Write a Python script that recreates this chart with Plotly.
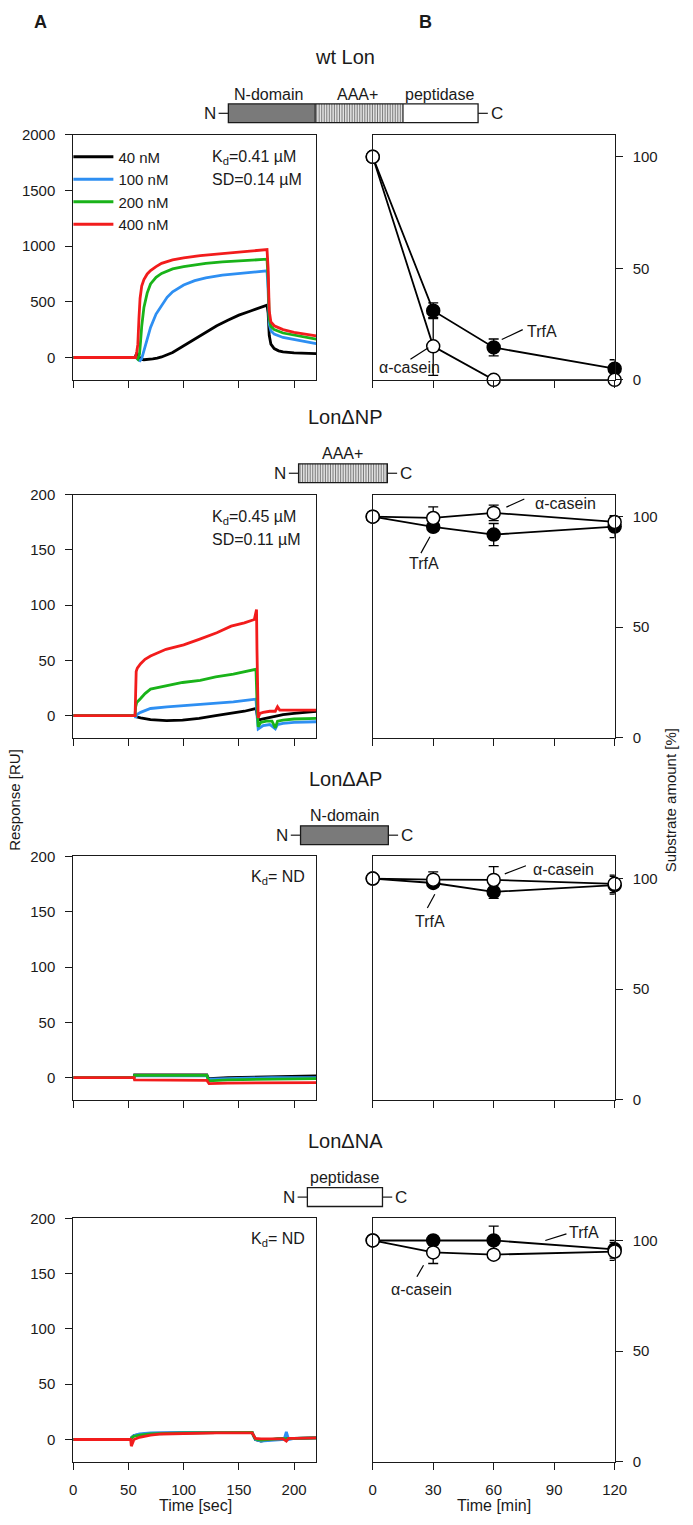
import plotly.graph_objects as go

W, H = 693, 1525
FONT = "Arial, 'Liberation Sans', Helvetica, sans-serif"
INK = "#1a1a1a"

# ---------------- Panel A data: SPR sensorgrams ----------------
conc_names = ["40 nM", "100 nM", "200 nM", "400 nM"]
conc_colors = ["#000000", "#2e8ff2", "#19b319", "#f21c1c"]

# wt Lon
wt_40_t = [0, 30, 56, 57.5, 59, 61, 64, 68, 72, 76, 80, 90, 100, 110, 120, 130, 140, 150, 160, 170, 175.5, 176.5, 177.5, 179, 182, 186, 190, 200, 210, 220]
wt_40_y = [0, 0, 0, 40, 20, -15, -20, -18, -12, -5, 5, 45, 105, 170, 230, 285, 335, 380, 415, 450, 470, 400, 200, 120, 80, 60, 50, 42, 38, 35]
wt_100_t = [0, 30, 57, 59, 60.5, 62, 65, 70, 75, 80, 85, 90, 100, 110, 120, 135, 150, 165, 175.5, 176.5, 177.5, 179, 182, 190, 200, 210, 220]
wt_100_y = [0, 0, 0, -20, -28, -10, 90, 270, 390, 470, 540, 590, 650, 690, 715, 740, 755, 770, 778, 600, 300, 240, 210, 180, 160, 145, 125]
wt_200_t = [0, 30, 57, 58.5, 60, 61, 62, 64, 67, 70, 75, 80, 90, 100, 110, 120, 135, 150, 165, 175.5, 176.5, 177.5, 179, 182, 190, 200, 210, 220]
wt_200_y = [0, 0, 0, -15, 30, 150, 280, 450, 580, 660, 720, 755, 795, 815, 830, 845, 858, 868, 875, 882, 700, 350, 280, 250, 220, 200, 185, 165]
wt_400_t = [0, 30, 56.5, 57.5, 58.5, 59.5, 60.5, 62, 64, 67, 70, 75, 80, 90, 100, 115, 130, 145, 160, 175.5, 176.5, 177.5, 179, 182, 190, 200, 210, 220]
wt_400_y = [0, 0, 0, 50, 120, 350, 530, 640, 700, 750, 780, 815, 845, 875, 895, 915, 930, 942, 955, 968, 800, 420, 320, 285, 250, 225, 210, 195]

# Lon dNP
np_40_t = [0, 30, 56, 57, 61, 70, 84.5, 99, 114, 129, 143, 155, 165.5, 166.5, 167.5, 172, 180, 190, 200, 210, 220]
np_40_y = [0, 0, 0, -1, -2, -3.5, -4.5, -4, -2.4, 0, 2, 4, 6.5, 0, -4, -3, -1, 1, 2, 3, 4]
np_100_t = [0, 30, 56, 56.6, 57.5, 61, 70, 85, 99, 115, 129, 145, 158, 165.5, 166.5, 167.5, 172, 178, 183, 185, 190, 200, 220]
np_100_y = [0, 0, 0, -2, 1, 3, 6.5, 8, 9, 10, 11, 12.5, 14, 15, 0, -12, -9, -8, -12, -8, -7, -6, -5.5]
np_200_t = [0, 30, 56, 56.5, 57.5, 61, 65, 70, 85, 99, 115, 129, 145, 158, 165.5, 166.5, 167.5, 170, 175, 180, 183, 185, 190, 200, 220]
np_200_y = [0, 0, 0, 8, 12, 15.5, 20, 24, 27, 30, 32, 35, 37.5, 40, 42, 10, -10, -6, -5, -5, -11, -5, -4, -3, -2.5]
np_400_t = [0, 30, 56, 56.5, 57, 58, 61, 65, 70, 84, 100, 114, 130, 143, 155, 164, 166, 166.4, 166.8, 167.5, 169, 172, 178, 183, 185, 187, 195, 210, 220]
np_400_y = [0, 0, 0, 20, 40, 43, 47, 51, 54, 60, 64, 69, 75, 81, 84, 87, 96, 60, 5, -2, 2, 3, 4, 4, 8, 5, 5, 5, 5]

# Lon dAP
ap_t = [0, 55, 55.5, 121, 122, 123, 140, 180, 220]
ap_40_y = [0, 0, 2.5, 2.5, 0, -1, 0, 1, 1.5]
ap_100_y = [0, 0, 1.5, 1.5, -1, -1.5, -1, 0, 0]
ap_200_y = [0, 0, 2, 2, -1, -3, -2, -1.5, -1]
ap_400_y = [0, 0, -2, -2.5, -4, -5.5, -5, -5, -4.5]

# Lon dNA
na_40_t = [0, 30, 52, 53, 55, 60, 70, 100, 130, 162, 163.5, 165, 170, 175, 185, 200, 220]
na_40_y = [0, 0, 0, 2, 3.5, 4.5, 5.5, 6, 6, 6.5, 3, 0, -1.5, -0.5, 0.5, 1, 1.5]
na_100_t = [0, 30, 52, 53, 55, 60, 70, 100, 130, 162, 163.5, 165, 170, 175, 185, 191, 193, 195, 200, 220]
na_100_y = [0, 0, 0, 2, 3.5, 5, 6, 6.5, 6.5, 6.5, 3, 0, -1.5, -1, 0, 0, 7, 0, 1, 1.5]
na_200_t = [0, 30, 52, 53, 55, 60, 70, 100, 130, 162, 163.5, 165, 170, 175, 185, 200, 220]
na_200_y = [0, 0, 0, 1.5, 3, 4, 5, 6, 6.5, 6.5, 3, 0.5, -0.5, 0, 0.5, 1, 1.5]
na_400_t = [0, 30, 52, 52.6, 53.5, 55, 60, 70, 80, 100, 130, 162, 163.5, 165, 170, 180, 190, 193, 195, 200, 220]
na_400_y = [0, 0, 0, -6, -3, 0, 2, 4, 5, 5.5, 6, 6, 3, 1, 0.5, 0.5, 0.5, -1.5, 1, 1, 1.5]

# ---------------- Panel B data: degradation ----------------
time_min = [0, 30, 60, 120]
wt_trfa = [100, 31, 14.5, 5]
wt_trfa_err = [0, 3.5, 3.8, 4]
wt_casein = [100, 15, 0, 0]
wt_casein_err = [0, 13, 0, 0]
np_trfa = [100, 95.4, 91.9, 95.5]
np_trfa_err = [0, 2, 5, 5]
np_casein = [100, 99.4, 101.7, 97.6]
np_casein_err = [0, 5, 3.5, 2.5]
ap_trfa = [100, 98, 94, 97]
ap_trfa_err = [0, 2, 3, 4]
ap_casein = [100, 99.5, 99.4, 97.6]
ap_casein_err = [0, 3.5, 6, 4]
na_trfa = [100, 100, 100, 96]
na_trfa_err = [0, 2, 6.5, 4]
na_casein = [100, 94.6, 93.6, 95]
na_casein_err = [0, 5, 1.5, 4]

row_titles = ["wt Lon", "Lon\u0394NP", "Lon\u0394AP", "Lon\u0394NA"]
kd_texts = [["K<sub>d</sub>=0.41 \u00b5M", "SD=0.14 \u00b5M"],
            ["K<sub>d</sub>=0.45 \u00b5M", "SD=0.11 \u00b5M"],
            ["K<sub>d</sub>= ND"], ["K<sub>d</sub>= ND"]]
sec_ticks = [0, 50, 100, 150, 200]
min_ticks = [0, 30, 60, 90, 120]
pct_ticks = [0, 50, 100]
ru_ticks = [[0, 500, 1000, 1500, 2000], [0, 50, 100, 150, 200], [0, 50, 100, 150, 200], [0, 50, 100, 150, 200]]
ru_ranges = [[-200, 2000], [-20, 200], [-20, 200], [-20, 200]]

spr_rows = [
    [(wt_40_t, wt_40_y), (wt_100_t, wt_100_y), (wt_200_t, wt_200_y), (wt_400_t, wt_400_y)],
    [(np_40_t, np_40_y), (np_100_t, np_100_y), (np_200_t, np_200_y), (np_400_t, np_400_y)],
    [(ap_t, ap_40_y), (ap_t, ap_100_y), (ap_t, ap_200_y), (ap_t, ap_400_y)],
    [(na_40_t, na_40_y), (na_100_t, na_100_y), (na_200_t, na_200_y), (na_400_t, na_400_y)],
]
deg_rows = [
    (wt_trfa, wt_trfa_err, wt_casein, wt_casein_err),
    (np_trfa, np_trfa_err, np_casein, np_casein_err),
    (ap_trfa, ap_trfa_err, ap_casein, ap_casein_err),
    (na_trfa, na_trfa_err, na_casein, na_casein_err),
]

# ---------------- layout geometry (pixels -> paper) ----------------
def fx(px):
    return px / W

def fy(py):
    return 1 - py / H

rows_top = [127, 491, 857, 1223]
rows_bot = [375, 737, 1103, 1469]
A_X = (71, 320)
B_X = (378, 626)

fig = go.Figure()
layout = dict(
    width=W, height=H, margin=dict(l=0, r=0, t=0, b=0),
    paper_bgcolor="white", plot_bgcolor="white",
    font=dict(family=FONT, size=15, color=INK),
    showlegend=True,
    legend=dict(x=fx(66), y=fy(133), xanchor="left", yanchor="top",
                bgcolor="rgba(0,0,0,0)", font=dict(size=15, color=INK),
                tracegroupgap=0, itemwidth=40),
)

axis_common = dict(showline=True, linecolor=INK, linewidth=1, mirror=True,
                   ticks="outside", ticklen=7, tickwidth=1, tickcolor=INK,
                   showgrid=False, zeroline=False, tickfont=dict(size=15, color=INK),
                   ticklabelstandoff=7)

annotations = []
shapes = []


def note(text, x, y, size=15, xanchor="center", yanchor="middle", angle=0, xref="paper", yref="paper"):
    return dict(text=text, x=x, y=y, xref=xref, yref=yref, xanchor=xanchor, yanchor=yanchor,
                showarrow=False, textangle=angle, font=dict(size=size, color=INK))


for r in range(4):
    ia = 2 * r + 1
    ib = 2 * r + 2
    ydom = [fy(rows_bot[r]), fy(rows_top[r])]
    last = (r == 3)
    layout[f"xaxis{ia}"] = dict(axis_common, domain=[fx(A_X[0]), fx(A_X[1])], range=[0, 220],
                                tickvals=sec_ticks, showticklabels=last, anchor=f"y{ia}")
    layout[f"yaxis{ia}"] = dict(axis_common, domain=ydom, range=ru_ranges[r],
                                tickvals=ru_ticks[r], anchor=f"x{ia}")
    layout[f"xaxis{ib}"] = dict(axis_common, domain=[fx(B_X[0]), fx(B_X[1])], range=[0, 120],
                                tickvals=min_ticks, showticklabels=last, anchor=f"y{ib}")
    layout[f"yaxis{ib}"] = dict(axis_common, domain=ydom, range=[0, 110], side="right",
                                tickvals=pct_ticks, anchor=f"x{ib}")

    # SPR traces
    for k, (tt, yy) in enumerate(spr_rows[r]):
        fig.add_trace(go.Scatter(
            x=tt, y=yy, mode="lines", name=conc_names[k],
            line=dict(color=conc_colors[k], width=2.8),
            xaxis=f"x{ia}", yaxis=f"y{ia}", showlegend=(r == 0)))

    # degradation traces
    trfa, trfa_err, cas, cas_err = deg_rows[r]
    fig.add_trace(go.Scatter(
        x=time_min, y=trfa, mode="lines+markers", name="TrfA", showlegend=False,
        line=dict(color="black", width=1.8),
        marker=dict(symbol="circle", size=13, color="black", line=dict(color="black", width=1.5)),
        error_y=dict(type="data", array=trfa_err, visible=True, color="black", thickness=1.3, width=5),
        cliponaxis=False, xaxis=f"x{ib}", yaxis=f"y{ib}"))
    fig.add_trace(go.Scatter(
        x=time_min, y=cas, mode="lines+markers", name="\u03b1-casein", showlegend=False,
        line=dict(color="black", width=1.8),
        marker=dict(symbol="circle", size=13, color="white", line=dict(color="black", width=1.5)),
        error_y=dict(type="data", array=cas_err, visible=True, color="black", thickness=1.3, width=5),
        cliponaxis=False, xaxis=f"x{ib}", yaxis=f"y{ib}"))

    # Kd text
    T = rows_top[r]
    if len(kd_texts[r]) == 2:
        annotations.append(note(kd_texts[r][0], fx(211), fy(T + 23), size=16, xanchor="left"))
        annotations.append(note(kd_texts[r][1], fx(211), fy(T + 45), size=16, xanchor="left"))
    else:
        annotations.append(note(kd_texts[r][0], fx(311), fy(T + 21), size=16, xanchor="right"))

    # row title
    annotations.append(note(row_titles[r], fx(350), fy(T - 78), size=20))

# callout labels in panel B: (row, label, text pos, line start, line end) in data units
callouts = [
    (0, "TrfA", (84, 21.8), (64, 18.1), (74.4, 22.5)),
    (0, "\u03b1-casein", (18.4, 5.5), (18.7, 9.2), (27.6, 14.4)),
    (1, "\u03b1-casein", (95.6, 106), (66.3, 104.3), (75.2, 108)),
    (1, "TrfA", (25.6, 79), (28.4, 90.9), (23.9, 83.5)),
    (2, "\u03b1-casein", (94.4, 104.3), (65.5, 102.1), (76, 105.8)),
    (2, "TrfA", (28.4, 80.6), (30.8, 92.9), (27.1, 86.7)),
    (3, "TrfA", (105, 103.4), (85.6, 100), (96.1, 103)),
    (3, "\u03b1-casein", (24, 77.7), (25.2, 88.8), (21.9, 83.6)),
]
for r, lab, tp, p0, p1 in callouts:
    ib = 2 * r + 2
    annotations.append(note(lab, tp[0], tp[1], size=16, xref=f"x{ib}", yref=f"y{ib}"))
    shapes.append(dict(type="line", xref=f"x{ib}", yref=f"y{ib}", x0=p0[0], y0=p0[1], x1=p1[0], y1=p1[1],
                       line=dict(color="black", width=1.2)))

# domain diagrams: segments (left px, right px, kind) and labels (text, center px)
diagrams = [
    ([(230, 319, "ndom"), (319, 409, "aaa"), (409, 486, "pep")],
     [("N-domain", 271), ("AAA+", 362), ("peptidase", 446)]),
    ([(302, 393, "aaa")], [("AAA+", 347)]),
    ([(304, 394, "ndom")], [("N-domain", 349)]),
    ([(311, 388, "pep")], [("peptidase", 349)]),
]
fills = {"ndom": "#7a7a7a", "aaa": "#e2e2e2", "pep": "#ffffff"}
for r, (segs, labels) in enumerate(diagrams):
    T = rows_top[r]
    y0, y1 = T - 31, T - 12
    ymid = (y0 + y1) / 2
    left = segs[0][0]
    right = segs[-1][1]
    for (a, b, kind) in segs:
        shapes.append(dict(type="rect", xref="paper", yref="paper", x0=fx(a), x1=fx(b), y0=fy(y1), y1=fy(y0),
                           fillcolor=fills[kind], line=dict(width=0), layer="above"))
        if kind == "aaa":
            xs = a + 1.5
            while xs < b - 0.5:
                shapes.append(dict(type="line", xref="paper", yref="paper", x0=fx(xs), x1=fx(xs),
                                   y0=fy(y1), y1=fy(y0), line=dict(color="#6e6e6e", width=0.9), layer="above"))
                xs += 2.6
    for (a, b, kind) in segs[1:]:
        shapes.append(dict(type="line", xref="paper", yref="paper", x0=fx(a), x1=fx(a), y0=fy(y1), y1=fy(y0),
                           line=dict(color=INK, width=1.2), layer="above"))
    shapes.append(dict(type="rect", xref="paper", yref="paper", x0=fx(left), x1=fx(right), y0=fy(y1), y1=fy(y0),
                       fillcolor="rgba(0,0,0,0)", line=dict(color=INK, width=1.3), layer="above"))
    shapes.append(dict(type="line", xref="paper", yref="paper", x0=fx(left - 10), x1=fx(left), y0=fy(ymid), y1=fy(ymid),
                       line=dict(color=INK, width=1.2)))
    shapes.append(dict(type="line", xref="paper", yref="paper", x0=fx(right), x1=fx(right + 10), y0=fy(ymid), y1=fy(ymid),
                       line=dict(color=INK, width=1.2)))
    annotations.append(note("N", fx(left - 11), fy(ymid), size=17, xanchor="right"))
    annotations.append(note("C", fx(right + 11), fy(ymid), size=17, xanchor="left"))
    for text, cx in labels:
        annotations.append(note(text, fx(cx), fy(T - 41), size=16))

# panel letters and axis titles
annotations += [
    note("<b>A</b>", fx(37), fy(13), size=18),
    note("<b>B</b>", fx(432), fy(13), size=18),
    note("Response [RU]", fx(10), fy(800), angle=-90),
    note("Substrate amount [%]", fx(683), fy(800), angle=-90),
    note("Time [sec]", fx(196), fy(1513), size=16),
    note("Time [min]", fx(502), fy(1513), size=16),
]

layout["annotations"] = annotations
layout["shapes"] = shapes
fig.update_layout(**layout)

fig.write_html("out.html", config={"displayModeBar": False},
               post_script="document.body.style.margin='0';document.body.style.overflow='hidden';")
